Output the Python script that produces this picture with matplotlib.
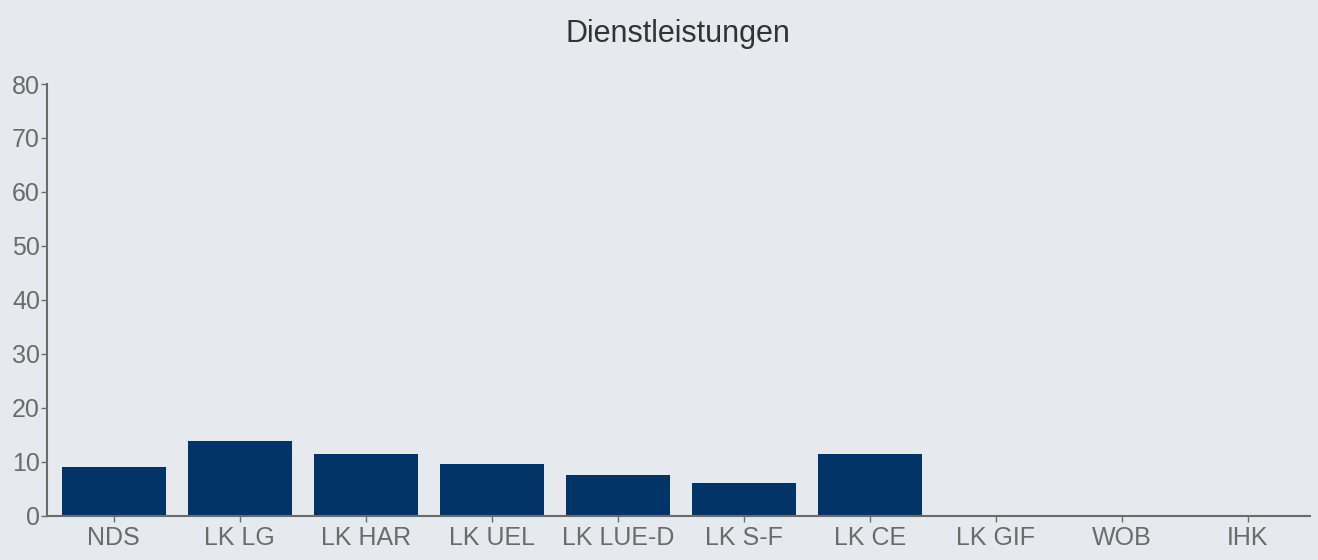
import numpy as np
import matplotlib.pyplot as plt

# Anteile je Region (Dienstleistungen)
regionen = ['NDS', 'LK LG', 'LK HAR', 'LK UEL', 'LK LUE-D', 'LK S-F', 'LK CE', 'LK GIF', 'WOB', 'IHK']
werte = [9.0, 13.8, 11.5, 9.6, 7.6, 6.2, 11.5, 0, 0, 0]
y_ticks = [0, 10, 20, 30, 40, 50, 60, 70, 80]

plt.rcParams['font.family'] = ['Liberation Sans', 'DejaVu Sans']

hintergrund = '#e6e9ee'
grau = '#6b6b6b'

fig = plt.figure(figsize=(13.18, 5.6), dpi=100, facecolor=hintergrund)
ax = fig.add_axes([0.0357, 0.0786, 0.958, 0.7714], facecolor=hintergrund)

x = np.arange(len(regionen))
ax.bar(x, werte, width=0.83, color='#003366')

ax.set_xlim(-0.53, 9.49)
ax.set_ylim(0, 80)
ax.set_xticks(x)
ax.set_xticklabels(regionen)
ax.set_yticks(y_ticks)

for s in ['top', 'right']:
    ax.spines[s].set_visible(False)
for s in ['left', 'bottom']:
    ax.spines[s].set_color(grau)
    ax.spines[s].set_linewidth(1.5)

ax.tick_params(axis='both', colors=grau, labelsize=18, length=4, width=1, pad=1)
ax.tick_params(axis='x', pad=3)

ax.set_title('Dienstleistungen', fontsize=22, color='#333333', pad=30)

fig.savefig('out.png', dpi=100, facecolor=hintergrund)
